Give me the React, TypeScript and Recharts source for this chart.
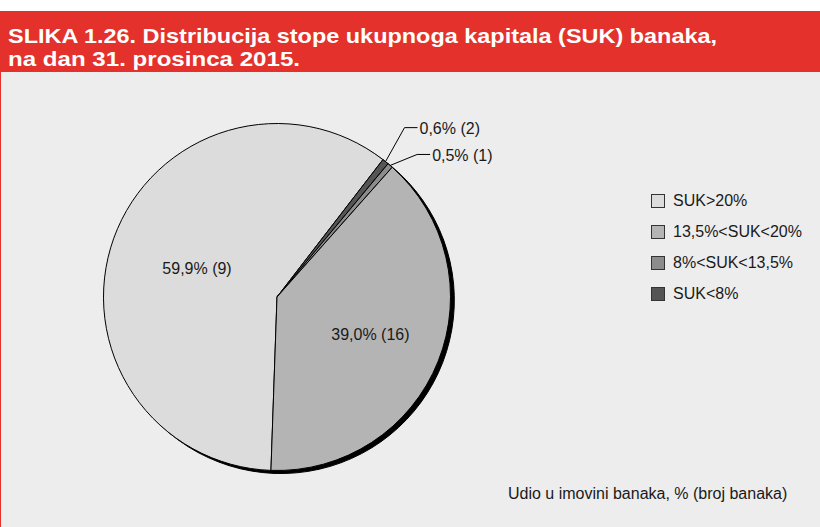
import { PieChart, Pie, Cell } from 'recharts';

// slice order as drawn (clockwise from the bottom edge)
const categories = ['SUK>20%', 'SUK<8%', '8%<SUK<13,5%', '13,5%<SUK<20%'];
const shares = [59.9, 0.6, 0.5, 39.0];
const bankCounts = [9, 2, 1, 16];
const sliceColors = ['#dcdcdc', '#555555', '#8c8c8c', '#b4b4b4'];

const legendLabels = ['SUK>20%', '13,5%<SUK<20%', '8%<SUK<13,5%', 'SUK<8%'];
const legendColors = ['#dcdcdc', '#b4b4b4', '#8c8c8c', '#555555'];

const shadowData = [{ name: 'shadow', value: 100 }];

const titleLines = ['SLIKA 1.26. Distribucija stope ukupnoga kapitala (SUK) banaka,', 'na dan 31. prosinca 2015.'];
const footnote = 'Udio u imovini banaka, % (broj banaka)';

const data = categories.map((name, i) => ({ name, value: shares[i], count: bankCounts[i] }));

const RADIAN = Math.PI / 180;
const FONT = '"Liberation Sans", Arial, sans-serif';
const CX = 277;
const CY = 297;
const R = 173.5;
const START = 90 - 182;

const fmt = (v: number, n: number) => `${v.toFixed(1).replace('.', ',')}% (${n})`;

// inside labels: radius ratio; outside labels: elbow offset
const insideRatio: Record<number, number> = { 0: 0.49, 3: 0.58 };
const elbow: Record<number, [number, number]> = { 1: [19, -34], 2: [27, -11] };

function renderLabel(props: any) {
  const { cx, cy, midAngle, outerRadius, index, payload } = props;
  const text = fmt(payload.value, payload.count);
  const cos = Math.cos(-midAngle * RADIAN);
  const sin = Math.sin(-midAngle * RADIAN);
  if (insideRatio[index] !== undefined) {
    const r = outerRadius * insideRatio[index];
    return (
      <text x={cx + r * cos} y={cy + r * sin} textAnchor="middle" dominantBaseline="central"
        fill="#1a1a1a" fontSize={16} fontFamily={FONT}>
        {text}
      </text>
    );
  }
  const sx = cx + outerRadius * cos;
  const sy = cy + outerRadius * sin;
  const [dx, dy] = elbow[index];
  const ex = sx + dx;
  const ey = sy + dy;
  return (
    <g>
      <polyline points={`${sx},${sy} ${ex},${ey} ${ex + 13},${ey}`} fill="none" stroke="#000" strokeWidth={1} />
      <text x={ex + 15} y={ey + 1} dominantBaseline="central" fill="#1a1a1a" fontSize={16} fontFamily={FONT}>
        {text}
      </text>
    </g>
  );
}

export default function App() {
  return (
    <div style={{ position: 'absolute', left: 0, top: 0, width: 820, height: 527, background: '#fff', overflow: 'hidden' }}>
      <div style={{ position: 'absolute', left: 0, top: 72, width: 820, height: 455, background: '#ededed', borderLeft: '1px solid #e4312b', boxSizing: 'border-box' }} />
      <svg style={{ position: 'absolute', left: 0, top: 0 }} width={820} height={72}>
        <rect x={0} y={11} width={820} height={61} fill="#e4312b" />
        <text x={8} y={43} fill="#fff" fontSize={20.5} fontWeight="bold" fontFamily={FONT} textLength={709} lengthAdjust="spacingAndGlyphs">
          {titleLines[0]}
        </text>
        <text x={8} y={66} fill="#fff" fontSize={20.5} fontWeight="bold" fontFamily={FONT} textLength={292} lengthAdjust="spacingAndGlyphs">
          {titleLines[1]}
        </text>
      </svg>
      <div style={{ position: 'absolute', left: 0, top: 0 }}>
        <PieChart width={820} height={527} margin={{ top: 0, right: 0, bottom: 0, left: 0 }}>
          <Pie data={shadowData} dataKey="value" cx={CX + 3} cy={CY + 3} outerRadius={R} startAngle={START} endAngle={START - 360}
            fill="#000" stroke="#000" isAnimationActive={false} label={false} labelLine={false} />
          <Pie data={data} dataKey="value" nameKey="name" cx={CX} cy={CY} outerRadius={R} startAngle={START} endAngle={START - 360}
            isAnimationActive={false} label={renderLabel} labelLine={false}>
            {data.map((d, i) => (
              <Cell key={d.name} fill={sliceColors[i]} stroke="#000" strokeWidth={1} />
            ))}
          </Pie>
        </PieChart>
      </div>
      {legendLabels.map((l, i) => (
        <div key={l} style={{ position: 'absolute', left: 651, top: 193 + i * 31, height: 16, display: 'flex', alignItems: 'center', fontFamily: FONT, fontSize: 16, color: '#1a1a1a' }}>
          <span style={{ width: 12, height: 12, background: legendColors[i], border: '1px solid #333', display: 'inline-block', marginRight: 8 }} />
          {l}
        </div>
      ))}
      <div style={{ position: 'absolute', left: 508, top: 485, fontFamily: FONT, fontSize: 16, color: '#1a1a1a', whiteSpace: 'nowrap' }}>
        {footnote}
      </div>
    </div>
  );
}
